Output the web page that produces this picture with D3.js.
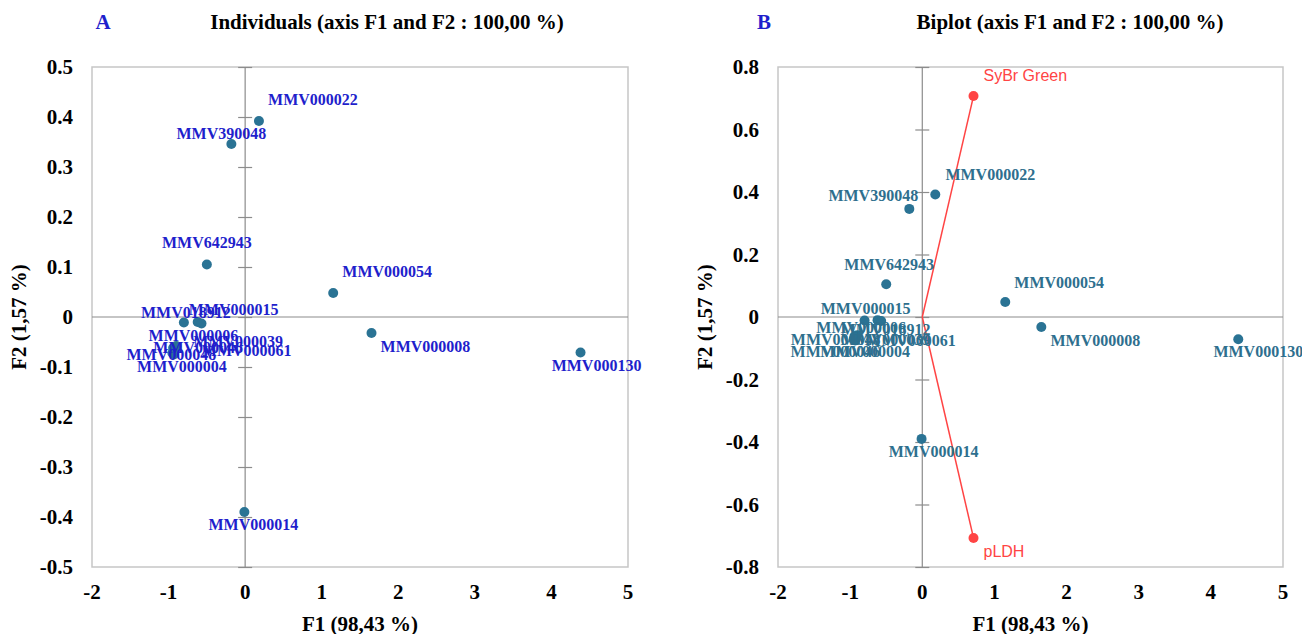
<!DOCTYPE html>
<html>
<head>
<meta charset="utf-8">
<script src="https://cdn.jsdelivr.net/npm/d3@7"></script>
<style>
  body { margin: 0; background: #fff; }
  svg text { font-family: "Liberation Serif", "Times New Roman", serif; font-weight: bold; }
  .var-label { font-family: "Liberation Sans", Arial, sans-serif !important; font-weight: normal !important; }
</style>
</head>
<body>
<svg id="chart" width="1302" height="634"></svg>
<script>
// observations: name, F1, F2
var obsNames = ['MMV000022', 'MMV390048', 'MMV642943', 'MMV000054', 'MMV000008', 'MMV000130', 'MMV000014',
  'MMV018912', 'MMV000015', 'MMV000006', 'MMV000039', 'MMV000046', 'MMV000061', 'MMV000048', 'MMV000004'];
var obsF1 = [0.18, -0.18, -0.50, 1.15, 1.65, 4.38, -0.01, -0.80, -0.62, -0.57, -0.90, -0.94, -0.92, -0.95, -0.93];
var obsF2 = [0.392, 0.346, 0.105, 0.048, -0.032, -0.071, -0.390, -0.011, -0.010, -0.013, -0.058, -0.062, -0.066, -0.072, -0.075];

// variables (biplot vectors)
var varNames = ['SyBr Green', 'pLDH'];
var varF1 = [0.71, 0.71];
var varF2 = [0.707, -0.707];

var xTicks = [-2, -1, 0, 1, 2, 3, 4, 5];
var yTicksA = [0.5, 0.4, 0.3, 0.2, 0.1, 0, -0.1, -0.2, -0.3, -0.4, -0.5];
var yTicksB = [0.8, 0.6, 0.4, 0.2, 0, -0.2, -0.4, -0.6, -0.8];

// label placement (px offsets from the dot: centre x, baseline y), one list per panel
var labelDxA = [54, -10, 0, 54, 54, 16, 9, 2, 36, -8, 62, 25, 72, -1, 8];
var labelDyA = [-16, -5, -17, -16, 19, 18, 18, -5, -7, 17, 1, 5, 6, 7, 17];
var labelDxB = [55, -36, 3, 54, 54, 20, 12, 21, -12, -20, 28, -19, 55, -18, 10];
var labelDyB = [-15, -8, -14, -14, 19, 18, 18, 15, -6, 12, 10, 21, 8, 5, 17];

var obs = obsNames.map(function(n, i) { return {name: n, f1: obsF1[i], f2: obsF2[i]}; });
var vars = varNames.map(function(n, i) { return {name: n, f1: varF1[i], f2: varF2[i]}; });

var svg = d3.select('#chart');

// plain hyphen for negatives, like the original
function fmtY(d) { return d === 0 ? '0' : d3.format('.1f')(d).replace('\u2212', '-'); }
function fmtX(d) { return String(d); }

function drawPanel(cfg) {
  var x = d3.scaleLinear().domain([-2, 5]).range([cfg.left, cfg.right]);
  var y = d3.scaleLinear().domain(cfg.yDomain).range([567, 67]);
  var g = svg.append('g');

  // frame
  g.append('rect')
    .attr('x', cfg.left).attr('y', 67)
    .attr('width', cfg.right - cfg.left).attr('height', 500)
    .attr('fill', 'none').attr('stroke', '#c6c6c6').attr('stroke-width', 1.5);

  // zero axes; the vertical one carries crossing tick marks
  var yAxis = d3.axisLeft(y).tickValues(cfg.yTicks).tickSizeInner(-14).tickSizeOuter(0).tickFormat('');
  g.append('g').attr('transform', 'translate(' + (x(0) - 7) + ',0)').call(yAxis)
    .call(function(s) { s.select('.domain').remove(); s.selectAll('line').attr('stroke', '#8c8c8c').attr('stroke-width', 1.2); });
  g.append('line').attr('x1', x(0)).attr('x2', x(0)).attr('y1', 67).attr('y2', 567)
    .attr('stroke', '#8c8c8c').attr('stroke-width', 1.2);
  g.append('line').attr('x1', cfg.left).attr('x2', cfg.right).attr('y1', y(0)).attr('y2', y(0))
    .attr('stroke', '#8c8c8c').attr('stroke-width', 1.2);

  // tick labels
  g.selectAll('.ytl').data(cfg.yTicks).enter().append('text')
    .attr('x', cfg.left - 19).attr('y', function(d) { return y(d) + 7; })
    .attr('text-anchor', 'end').style('font-size', '21px').text(fmtY);
  g.selectAll('.xtl').data(xTicks).enter().append('text')
    .attr('x', function(d) { return x(d); }).attr('y', 599)
    .attr('text-anchor', 'middle').style('font-size', '21px').text(fmtX);

  // axis titles
  g.append('text').attr('x', (cfg.left + cfg.right) / 2).attr('y', 631)
    .attr('text-anchor', 'middle').style('font-size', '21px').text('F1 (98,43 %)');
  g.append('text').attr('transform', 'translate(' + (cfg.left - 66) + ',317) rotate(-90)')
    .attr('text-anchor', 'middle').style('font-size', '21px').text('F2 (1,57 %)');

  // titles
  g.append('text').attr('x', cfg.letterX).attr('y', 29).attr('text-anchor', 'middle')
    .attr('fill', '#1f1fcc').style('font-size', '21px').text(cfg.letter);
  g.append('text').attr('x', cfg.titleX).attr('y', 29).attr('text-anchor', 'middle')
    .style('font-size', '21px').text(cfg.title);

  // variable vectors
  if (cfg.vectors) {
    g.selectAll('.vec').data(vars).enter().append('line')
      .attr('x1', x(0)).attr('y1', y(0))
      .attr('x2', function(d) { return x(d.f1); }).attr('y2', function(d) { return y(d.f2); })
      .attr('stroke', '#ff4444').attr('stroke-width', 1.5);
    g.selectAll('.vdot').data(vars).enter().append('circle')
      .attr('cx', function(d) { return x(d.f1); }).attr('cy', function(d) { return y(d.f2); })
      .attr('r', 5).attr('fill', '#ff4444');
    g.selectAll('.vlab').data(vars).enter().append('text').attr('class', 'var-label')
      .attr('x', function(d) { return x(d.f1) + 10; })
      .attr('y', function(d) { return y(d.f2) + (d.f2 > 0 ? -15 : 19); })
      .attr('fill', '#ff4444').style('font-size', '16px').text(function(d) { return d.name; });
  }

  // observations
  g.selectAll('.dot').data(obs).enter().append('circle')
    .attr('cx', function(d) { return x(d.f1); }).attr('cy', function(d) { return y(d.f2); })
    .attr('r', 5).attr('fill', '#2a7394');
  g.selectAll('.lab').data(obs).enter().append('text')
    .attr('x', function(d, i) { return x(d.f1) + cfg.dx[i]; })
    .attr('y', function(d, i) { return y(d.f2) + cfg.dy[i]; })
    .attr('text-anchor', 'middle').attr('fill', cfg.labelColor)
    .style('font-size', '16px').text(function(d) { return d.name; });
}

drawPanel({
  left: 92, right: 628, yDomain: [-0.5, 0.5], yTicks: yTicksA,
  letter: 'A', letterX: 103, title: 'Individuals (axis F1 and F2 : 100,00 %)', titleX: 387,
  labelColor: '#1f1fcc', dx: labelDxA, dy: labelDyA, vectors: false
});

drawPanel({
  left: 778, right: 1283, yDomain: [-0.8, 0.8], yTicks: yTicksB,
  letter: 'B', letterX: 764, title: 'Biplot (axis F1 and F2 : 100,00 %)', titleX: 1070,
  labelColor: '#2e6f8e', dx: labelDxB, dy: labelDyB, vectors: true
});
</script>
</body>
</html>
